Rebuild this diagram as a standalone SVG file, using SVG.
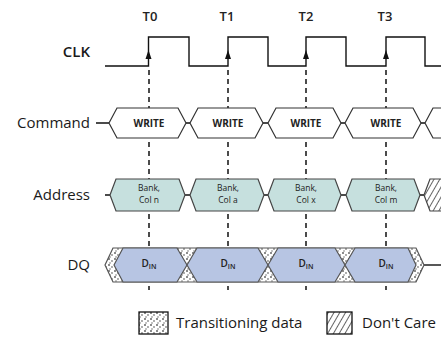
<svg xmlns="http://www.w3.org/2000/svg" width="441" height="340" viewBox="0 0 441 340">
<defs>
<pattern id="speckle" width="6" height="6" patternUnits="userSpaceOnUse">
<rect width="6" height="6" fill="#ffffff"/>
<circle cx="1" cy="1" r="1" fill="#666"/>
<circle cx="4" cy="3" r="0.9" fill="#888"/>
<circle cx="2" cy="5" r="0.8" fill="#777"/>
</pattern>
<pattern id="hatch" width="5" height="5" patternUnits="userSpaceOnUse" patternTransform="rotate(30)">
<rect width="5" height="5" fill="#ffffff"/>
<line x1="0" y1="0" x2="0" y2="5" stroke="#222" stroke-width="1.4"/>
</pattern>
<style>
.lbl{font-family:"Open Sans","Liberation Sans",sans-serif;font-size:15px;fill:#1a1a1a;}
.tl{font-family:"Open Sans","Liberation Sans",sans-serif;font-size:13px;font-weight:600;fill:#222;text-anchor:middle;}
.wr{font-family:"Open Sans","Liberation Sans",sans-serif;font-size:10px;font-weight:700;fill:#222;text-anchor:middle;}
.ad{font-family:"Open Sans","Liberation Sans",sans-serif;font-size:8.5px;fill:#222;text-anchor:middle;}
.dq{font-family:"Open Sans","Liberation Sans",sans-serif;font-size:10px;font-weight:600;fill:#222;text-anchor:middle;}
.cmd{fill:#ffffff;stroke:#333;stroke-width:1.2;}
.adr{fill:#c6e0de;stroke:#444;stroke-width:1.2;}
.dqb{fill:#b7c5e3;stroke:#555;stroke-width:1.2;}
.dash{stroke:#111;stroke-width:1.5;stroke-dasharray:5,4;fill:none;}
.wire{stroke:#111;stroke-width:1.4;fill:none;}
</style>
</defs>
<rect width="441" height="340" fill="#ffffff"/>

<g id="labels">
<text class="tl" x="150" y="21">T0</text>
<text class="tl" x="227" y="21">T1</text>
<text class="tl" x="306" y="21">T2</text>
<text class="tl" x="385" y="21">T3</text>
<text class="lbl" x="90" y="57" text-anchor="end" font-weight="600" font-size="14">CLK</text>
<text class="lbl" x="90" y="128" text-anchor="end">Command</text>
<text class="lbl" x="90" y="200" text-anchor="end">Address</text>
<text class="lbl" x="90" y="270" text-anchor="end">DQ</text>
</g>

<g id="connectors">
<path class="dash" d="M149,70 V290 M228,70 V290 M306,70 V290 M386,70 V290"/>
<path class="wire" d="M96,123 H109 M186,123 H190 M263,123 H268 M341,123 H345 M421,123 H425"/>
<path class="wire" d="M105,195 H110 M185,195 H190 M264,195 H268 M341,195 H346 M420,195 H424"/>
<path class="wire" d="M424,265 H441"/>
</g>

<g id="clk">
<path class="wire" stroke-width="1.6" d="M105,66 H148.5 V37 H189 V66 H228 V37 H268 V66 H306 V37 H346 V66 H386 V37 H425 V66 H441"/>
<path fill="#111" d="M148.5,50 L145.5,59 H151.5 Z M228,50 L225,59 H231 Z M306,50 L303,59 H309 Z M386,50 L383,59 H389 Z"/>
</g>

<g id="command">
<path class="cmd" d="M109,123 L117,108 H178 L186,123 L178,138 H117 Z"/>
<path class="cmd" d="M190,123 L198,108 H255 L263,123 L255,138 H198 Z"/>
<path class="cmd" d="M268,123 L276,108 H333 L341,123 L333,138 H276 Z"/>
<path class="cmd" d="M345,123 L353,108 H413 L421,123 L413,138 H353 Z"/>
<path class="cmd" d="M425,123 L433,108 H450 V138 H433 Z"/>
<text class="wr" x="149" y="127">WRITE</text>
<text class="wr" x="228" y="127">WRITE</text>
<text class="wr" x="306" y="127">WRITE</text>
<text class="wr" x="386" y="127">WRITE</text>
</g>

<g id="address">
<path class="adr" d="M110,195 L116,179 H179 L185,195 L179,211 H116 Z"/>
<path class="adr" d="M190,195 L196,179 H258 L264,195 L258,211 H196 Z"/>
<path class="adr" d="M268,195 L274,179 H335 L341,195 L335,211 H274 Z"/>
<path class="adr" d="M346,195 L352,179 H414 L420,195 L414,211 H352 Z"/>
<path d="M424,195 L430,179 H450 V211 H430 Z" fill="url(#hatch)" stroke="#444" stroke-width="1.2"/>
<text class="ad" x="149" y="191">Bank,</text>
<text class="ad" x="149" y="203">Col n</text>
<text class="ad" x="228" y="191">Bank,</text>
<text class="ad" x="228" y="203">Col a</text>
<text class="ad" x="306" y="191">Bank,</text>
<text class="ad" x="306" y="203">Col x</text>
<text class="ad" x="386" y="191">Bank,</text>
<text class="ad" x="386" y="203">Col m</text>
</g>

<g id="dq">
<path d="M105,265 L113,248 H416 L424,265 L416,282 H113 Z" fill="url(#speckle)" stroke="#555" stroke-width="1.2"/>
<path class="dqb" d="M114,265 L123,248 H177 L187,265 L177,282 H123 Z"/>
<path class="dqb" d="M187,265 L197,248 H258 L268,265 L258,282 H197 Z"/>
<path class="dqb" d="M268,265 L278,248 H335 L345,265 L335,282 H278 Z"/>
<path class="dqb" d="M345,265 L355,248 H408 L416,265 L408,282 H355 Z"/>
<text class="dq" x="149" y="267">D<tspan font-size="7" dy="2">IN</tspan></text>
<text class="dq" x="228" y="267">D<tspan font-size="7" dy="2">IN</tspan></text>
<text class="dq" x="306" y="267">D<tspan font-size="7" dy="2">IN</tspan></text>
<text class="dq" x="386" y="267">D<tspan font-size="7" dy="2">IN</tspan></text>
</g>

<g id="legend">
<rect x="139" y="312" width="29" height="22" fill="url(#speckle)" stroke="#111" stroke-width="1.3"/>
<text class="lbl" x="176" y="328" font-size="14">Transitioning data</text>
<rect x="327" y="312" width="25" height="22" fill="url(#hatch)" stroke="#111" stroke-width="1.3"/>
<text class="lbl" x="362" y="328" font-size="14">Don't Care</text>
</g>
</svg>
